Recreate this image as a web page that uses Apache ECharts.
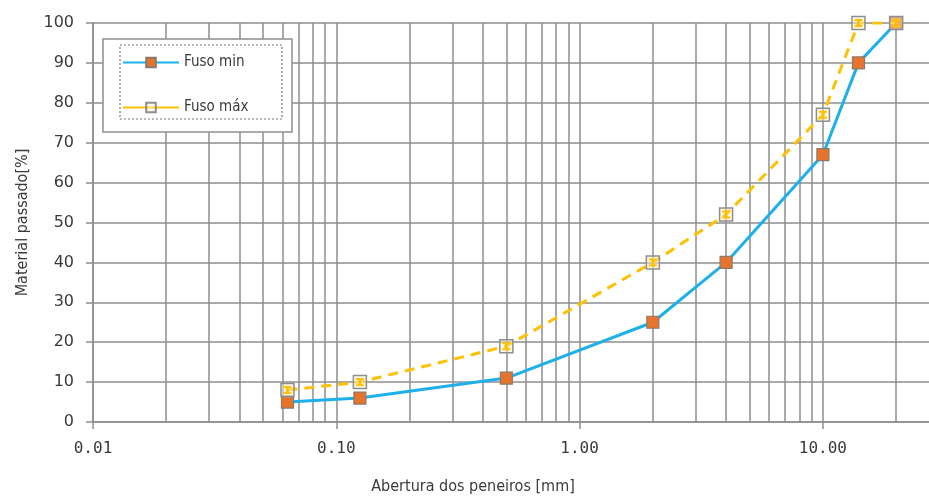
<!DOCTYPE html>
<html><head><meta charset="utf-8">
<script src="https://cdn.jsdelivr.net/npm/echarts@6/dist/echarts.min.js"></script>
<style>html,body{margin:0;padding:0;background:#fff}#c{width:929px;height:497px}</style>
</head><body><div id="c"></div>
<script>
const sieveSizes = [0.063, 0.125, 0.5, 2, 4, 10, 14, 20];
const fusoMin = [5, 6, 11, 25, 40, 67, 90, 100];
const fusoMax = [8, 10, 19, 40, 52, 77, 100, 100];
const seriesNames = ['Fuso min', 'Fuso máx'];
const xMinorGrid = [0.02,0.03,0.04,0.05,0.06,0.07,0.08,0.09,
                    0.2,0.3,0.4,0.5,0.6,0.7,0.8,0.9,
                    2,3,4,5,6,7,8,9,20];
const xAxisName = 'Abertura dos peneiros [mm]';
const yAxisName = 'Material passado[%]';

const narrow = "'Liberation Sans Narrow', 'DejaVu Sans Condensed', sans-serif";
const gridColor = '#8e8e8e';

const minData = sieveSizes.map((x, i) => [x, fusoMin[i]]);
const maxData = sieveSizes.map((x, i) => [x, fusoMax[i]]);
const ibeam = 'path://M0,0 H10 V2.4 H6.8 V7.6 H10 V10 H0 V7.6 H3.2 V2.4 H0 Z';

const chart = echarts.init(document.getElementById('c'), null, {renderer: 'canvas'});
chart.setOption({
  backgroundColor: '#ffffff',
  animation: false,
  grid: {left: 93, top: 23, right: -10, bottom: 75, containLabel: false, outerBoundsMode: 'none'},
  xAxis: {
    type: 'log', logBase: 10, min: 0.01, max: 30,
    name: xAxisName, nameLocation: 'middle', nameGap: 57,
    nameTextStyle: {fontFamily: narrow, fontSize: 16, color: '#3a3a3a', padding: [0, 86, 0, 0]},
    axisLine: {show: true, lineStyle: {color: gridColor, width: 1.5}},
    axisTick: {show: true, length: 7, lineStyle: {color: gridColor, width: 1.5}},
    axisLabel: {
      margin: 19, fontFamily: "'DejaVu Sans Mono', monospace", fontSize: 16, color: '#3a3a3a',
      formatter: v => {
        const l = Math.log10(v);
        return Math.abs(l - Math.round(l)) < 1e-6 && v < 25 ? v.toFixed(2) : '';
      }
    },
    splitLine: {show: true, lineStyle: {color: gridColor, width: 1.5}},
    minorTick: {show: false}, minorSplitLine: {show: false}
  },
  yAxis: {
    type: 'value', min: 0, max: 100, interval: 10,
    name: yAxisName, nameLocation: 'middle', nameGap: 62, nameRotate: 90,
    nameTextStyle: {fontFamily: narrow, fontSize: 16, color: '#3a3a3a'},
    axisLine: {show: true, lineStyle: {color: gridColor, width: 1.5}},
    axisTick: {show: true, length: 7, lineStyle: {color: gridColor, width: 1.5}},
    axisLabel: {margin: 19, fontFamily: "'DejaVu Sans', sans-serif", fontSize: 16, color: '#3a3a3a'},
    splitLine: {show: true, lineStyle: {color: gridColor, width: 1.5}}
  },
  legend: {
    data: [
      {name: seriesNames[0]},
      {name: seriesNames[1], lineStyle: {type: 'solid'}}
    ],
    orient: 'vertical', left: 122, top: 55, padding: 0,
    itemWidth: 56, itemHeight: 12, itemGap: 30,
    textStyle: {fontFamily: narrow, fontSize: 15, color: '#3a3a3a'},
    z: 6
  },
  graphic: [
    {type: 'rect', z: 5, silent: true, shape: {x: 103, y: 39, width: 189, height: 93},
     style: {fill: '#ffffff', stroke: '#8e8e8e', lineWidth: 1.5}},
    {type: 'rect', z: 5, silent: true, shape: {x: 120, y: 45, width: 162, height: 74},
     style: {fill: 'none', stroke: '#777', lineWidth: 1.2, lineDash: [2, 2]}}
  ],
  series: [
    {
      name: '_grid', type: 'line', data: [], silent: true, z: 1,
      markLine: {
        silent: true, symbol: 'none', z: 1, animation: false,
        label: {show: false},
        lineStyle: {color: gridColor, width: 1.5, type: 'solid'},
        data: xMinorGrid.map(v => ({xAxis: v}))
      }
    },
    {
      name: seriesNames[0], type: 'line', data: minData, z: 3,
      symbol: 'rect', symbolSize: 12,
      lineStyle: {color: '#1DB0EA', width: 3},
      itemStyle: {color: '#E8732C', borderColor: '#8a7a6a', borderWidth: 1.2}
    },
    {
      name: seriesNames[1], type: 'line', data: maxData, z: 4,
      symbol: 'rect', symbolSize: 13,
      lineStyle: {color: '#FFC000', width: 3, type: [10, 7]},
      itemStyle: {color: 'rgba(255,240,190,0.45)', borderColor: '#8e8e8e', borderWidth: 1.5}
    },
    {
      name: '_maxGlyph', type: 'line', data: maxData, z: 5, silent: true,
      symbol: ibeam, symbolSize: 8,
      lineStyle: {opacity: 0},
      itemStyle: {color: '#FFC000'}
    }
  ]
});
</script></body></html>
